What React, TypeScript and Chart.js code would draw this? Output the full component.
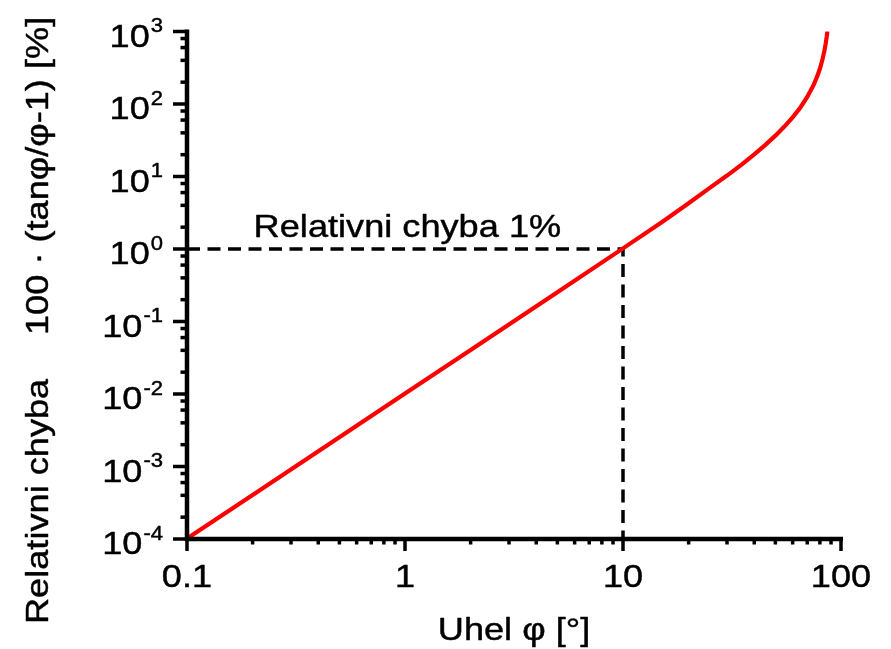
import React, { useEffect, useRef } from "react";
import { Chart, registerables } from "chart.js";

Chart.register(...registerables);

// Angle φ in degrees
const angleDeg = [0.1, 0.2, 0.5, 1, 2, 5, 10, 15, 20, 25, 30, 35, 40, 45, 50, 55, 60, 65, 70, 75, 78, 80, 82, 84, 85, 86, 86.6];
// Relative error 100·(tanφ/φ − 1) in %
const relError = [
  1.015e-4, 4.06e-4, 2.54e-3, 1.015e-2, 4.06e-2, 0.254, 1.02, 2.32, 4.27, 6.97, 10.3, 14.6, 20.2, 27.3, 36.6, 48.8,
  65.4, 89.0, 124.9, 185, 246, 306, 397, 549, 670, 853, 1013,
];

// Reference 1 % guide (dashed)
const refX = [0.1, 10, 10];
const refY = [1, 1, 1e-4];

const xTickValues = [0.1, 1, 10, 100];
const xTickLabels = ["0.1", "1", "10", "100"];
const yTickExponents = [-4, -3, -2, -1, 0, 1, 2, 3];
const xMinorMultipliers = [2, 3, 4, 5, 6, 7, 8, 9];
const yMinorMultipliers = [2, 4, 6, 8];

const xTitle = "Uhel φ [°]";
const yTitleA = "Relativni chyba";
const yTitleB = "100 · (tanφ/φ-1) [%]";
const annotationText = "Relativni chyba 1%";

const FONT = "'Liberation Sans', Arial, Helvetica, sans-serif";
const SX = 1.13;

function drawText(
  ctx: CanvasRenderingContext2D,
  text: string,
  x: number,
  y: number,
  size: number,
  align: CanvasTextAlign,
  rotate = 0
) {
  ctx.save();
  ctx.translate(x, y);
  if (rotate) ctx.rotate(rotate);
  ctx.scale(SX, 1);
  ctx.font = `${size}px ${FONT}`;
  ctx.textAlign = align;
  ctx.textBaseline = "alphabetic";
  ctx.fillStyle = "#000";
  ctx.strokeStyle = "#000";
  ctx.lineWidth = 0.45;
  ctx.lineJoin = "round";
  ctx.fillText(text, 0, 0);
  ctx.strokeText(text, 0, 0);
  ctx.restore();
}

const axesPlugin = {
  id: "customAxes",
  afterDatasetsDraw(chart: any) {
    const ctx: CanvasRenderingContext2D = chart.ctx;
    const xs = chart.scales.x;
    const ys = chart.scales.y;
    const area = chart.chartArea;
    ctx.save();
    ctx.strokeStyle = "#000";
    ctx.lineCap = "butt";

    // axis lines
    ctx.lineWidth = 4.5;
    ctx.beginPath();
    ctx.moveTo(area.left, area.top - 2);
    ctx.lineTo(area.left, area.bottom);
    ctx.lineTo(area.right + 2, area.bottom);
    ctx.stroke();

    ctx.lineWidth = 3.5;
    // x major ticks
    xTickValues.forEach((v) => {
      const px = xs.getPixelForValue(v);
      ctx.beginPath();
      ctx.moveTo(px, area.bottom);
      ctx.lineTo(px, area.bottom + 12);
      ctx.stroke();
    });
    // x minor ticks
    for (let d = 0; d < xTickValues.length - 1; d++) {
      xMinorMultipliers.forEach((m) => {
        const px = xs.getPixelForValue(xTickValues[d] * m);
        ctx.beginPath();
        ctx.moveTo(px, area.bottom);
        ctx.lineTo(px, area.bottom + 5.5);
        ctx.stroke();
      });
    }
    // y major ticks
    yTickExponents.forEach((e) => {
      const py = ys.getPixelForValue(Math.pow(10, e));
      ctx.beginPath();
      ctx.moveTo(area.left, py);
      ctx.lineTo(area.left - 14, py);
      ctx.stroke();
    });
    // y minor ticks
    for (let i = 0; i < yTickExponents.length - 1; i++) {
      yMinorMultipliers.forEach((m) => {
        const py = ys.getPixelForValue(Math.pow(10, yTickExponents[i]) * m);
        ctx.beginPath();
        ctx.moveTo(area.left, py);
        ctx.lineTo(area.left - 6.5, py);
        ctx.stroke();
      });
    }

    // x tick labels
    xTickValues.forEach((v, i) => {
      drawText(ctx, xTickLabels[i], xs.getPixelForValue(v), area.bottom + 48, 32, "center");
    });

    // y tick labels: 10 with superscript exponent
    const rightEdge = area.left - 24;
    yTickExponents.forEach((e) => {
      const py = ys.getPixelForValue(Math.pow(10, e));
      const expStr = String(e);
      ctx.font = `19.5px ${FONT}`;
      const ew = ctx.measureText(expStr).width * SX;
      drawText(ctx, expStr, rightEdge, py + 0.5, 19.5, "right");
      drawText(ctx, "10", rightEdge - ew - 1, py + 15, 32, "right");
    });

    // axis titles
    drawText(ctx, xTitle, (area.left + area.right) / 2, 640, 32, "center");
    drawText(ctx, yTitleA, 48, 624, 32, "left", -Math.PI / 2);
    drawText(ctx, yTitleB, 48, 335, 32, "left", -Math.PI / 2);

    // annotation above the 1% line
    const ax = xs.getPixelForValue(0.2) + 1;
    const ay = ys.getPixelForValue(1) - 12;
    drawText(ctx, annotationText, ax, ay, 32, "left");

    ctx.restore();
  },
};

export default function App() {
  const ref = useRef<HTMLCanvasElement | null>(null);

  useEffect(() => {
    document.body.style.margin = "0";
    const canvas = ref.current;
    if (!canvas) return;
    const chart = new Chart(canvas, {
      type: "scatter",
      data: {
        datasets: [
          {
            label: "reference",
            data: refX.map((x, i) => ({ x, y: refY[i] })),
            showLine: true,
            borderColor: "#000",
            borderWidth: 3.5,
            borderDash: [13, 7.5],
            pointRadius: 0,
            fill: false,
            order: 2,
          },
          {
            label: "error",
            data: angleDeg.map((x, i) => ({ x, y: relError[i] })),
            showLine: true,
            borderColor: "#ff0000",
            borderWidth: 4.2,
            pointRadius: 0,
            fill: false,
            tension: 0,
            order: 1,
          },
        ],
      },
      options: {
        animation: false,
        responsive: false,
        devicePixelRatio: 1,
        layout: { padding: { left: 187, right: 50, top: 31.5, bottom: 110 } },
        plugins: { legend: { display: false }, tooltip: { enabled: false } },
        scales: {
          x: { type: "logarithmic", min: 0.1, max: 100, display: false },
          y: { type: "logarithmic", min: 1e-4, max: 1e3, display: false },
        },
      },
      plugins: [axesPlugin],
    });
    return () => chart.destroy();
  }, []);

  return (
    <div style={{ width: 891, height: 649, background: "#fff" }}>
      <canvas ref={ref} width={891} height={649} style={{ display: "block", width: 891, height: 649 }} />
    </div>
  );
}
